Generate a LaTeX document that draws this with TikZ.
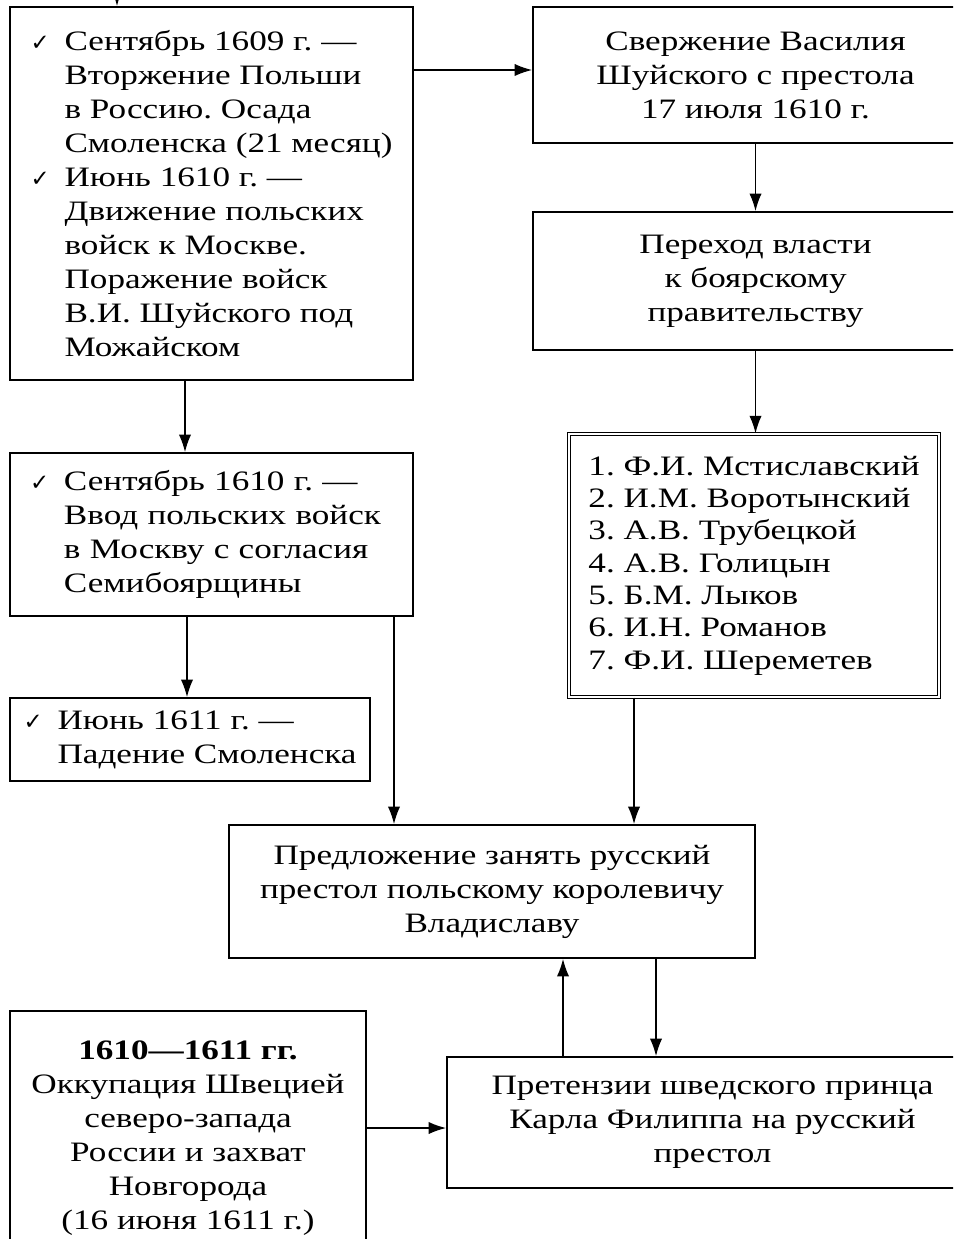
\documentclass[tikz,border=0pt]{standalone}
\usepackage{fontspec}
\setmainfont{Liberation Serif}[FakeStretch=1.25]
\newfontfamily\symfont{DejaVu Sans}
\usetikzlibrary{arrows.meta}

\frenchspacing
\def\chk{\makebox[0.68cm][l]{\symfont\fontsize{13}{13}\selectfont ✓}}
\def\ind{\hspace*{0.68cm}}
\tikzstyle{box}=[draw, line width=1pt, inner sep=0pt,
                 font=\fontsize{16}{19.3}\selectfont]
\tikzstyle{lbox}=[box, align=left]
\tikzstyle{cbox}=[box, align=center]
\tikzstyle{dbox}=[box, align=left, double, double distance=1.4pt,
                  line width=0.7pt, font=\fontsize{16}{18.4}\selectfont]
\tikzstyle{arr}=[-{Latex[length=10pt,width=7pt]}, line width=0.8pt]

\begin{document}
\begin{tikzpicture}
  \useasboundingbox (0,0) rectangle (19.06,-24.78);
  \clip (0,0) rectangle (19.06,-24.78);

  % left column
  \node[lbox, minimum width=8.06cm, minimum height=7.46cm] (invasion) at (4.23,-3.87)
    {\chk Сентябрь 1609 г. —\\ \ind Вторжение Польши\\ \ind в Россию. Осада\\
     \ind Смоленска (21 месяц)\\ \chk Июнь 1610 г. —\\ \ind Движение польских\\
     \ind войск к Москве.\\ \ind Поражение войск\\ \ind В.И. Шуйского под\\ \ind Можайском};
  \node[lbox, text width=7.26cm, minimum width=8.06cm, minimum height=3.26cm] (entry) at (4.23,-10.69)
    {\chk Сентябрь 1610 г. —\\ \ind Ввод польских войск\\ \ind в Москву с согласия\\ \ind Семибоярщины};
  \node[lbox, minimum width=7.2cm, minimum height=1.66cm] (smolensk) at (3.80,-14.79)
    {\chk Июнь 1611 г. —\\ \ind Падение Смоленска};
  \node[cbox, minimum width=7.12cm, minimum height=5.08cm] (sweden) at (3.76,-22.76)
    {\textbf{1610—1611 гг.}\\ Оккупация Швецией\\ северо-запада\\ России и захват\\ Новгорода\\ (16 июня 1611 г.)};

  % right column
  \node[cbox, minimum width=8.9cm, minimum height=2.72cm] (overthrow) at (15.11,-1.50)
    {Свержение Василия\\ Шуйского с престола\\ 17 июля 1610 г.};
  \node[cbox, minimum width=8.9cm, minimum height=2.76cm] (boyars) at (15.11,-5.62)
    {Переход власти\\ к боярскому\\ правительству};
  \node[dbox, minimum width=7.40cm, minimum height=5.26cm] (seven) at (15.08,-11.31)
    {1. Ф.И. Мстиславский\\ 2. И.М. Воротынский\\ 3. А.В. Трубецкой\\ 4. А.В. Голицын\\
     5. Б.М. Лыков\\ 6. И.Н. Романов\\ 7. Ф.И. Шереметев};

  % bottom
  \node[cbox, minimum width=10.52cm, minimum height=2.66cm] (vladislav) at (9.84,-17.83)
    {Предложение занять русский\\ престол польскому королевичу\\ Владиславу};
  \node[cbox, minimum width=10.62cm, minimum height=2.62cm] (karl) at (14.25,-22.45)
    {Претензии шведского принца\\ Карла Филиппа на русский\\ престол};

  \coordinate (above) at (2.34,0.3);
  \draw[arr] (above) -- (above |- invasion.north);
  \draw[arr] ([yshift=0.1cm]invasion.east |- overthrow.west) -- ([yshift=0.1cm]overthrow.west);
  \draw[arr] (overthrow) -- (boyars);
  \draw[arr] (boyars.south) -- (boyars.south |- seven.north);
  \draw[arr] ([xshift=-0.53cm]invasion.south) -- ([xshift=-0.53cm]invasion.south |- entry.north);
  \draw[arr] ([xshift=-0.49cm]entry.south) -- ([xshift=-0.49cm]entry.south |- smolensk.north);
  \draw[arr] ([xshift=3.65cm]entry.south) -- ([xshift=3.65cm]entry.south |- vladislav.north);
  \draw[arr] ([xshift=-2.40cm]seven.south) -- ([xshift=-2.40cm]seven.south |- vladislav.north);
  \draw[arr] ([xshift=-2.99cm]karl.north) -- ([xshift=-2.99cm]karl.north |- vladislav.south);
  \draw[arr] ([xshift=3.28cm]vladislav.south) -- ([xshift=3.28cm]vladislav.south |- karl.north);
  \draw[arr] ([yshift=-0.11cm]sweden.east |- karl.west) -- ([yshift=-0.11cm]karl.west);

\end{tikzpicture}
\end{document}
